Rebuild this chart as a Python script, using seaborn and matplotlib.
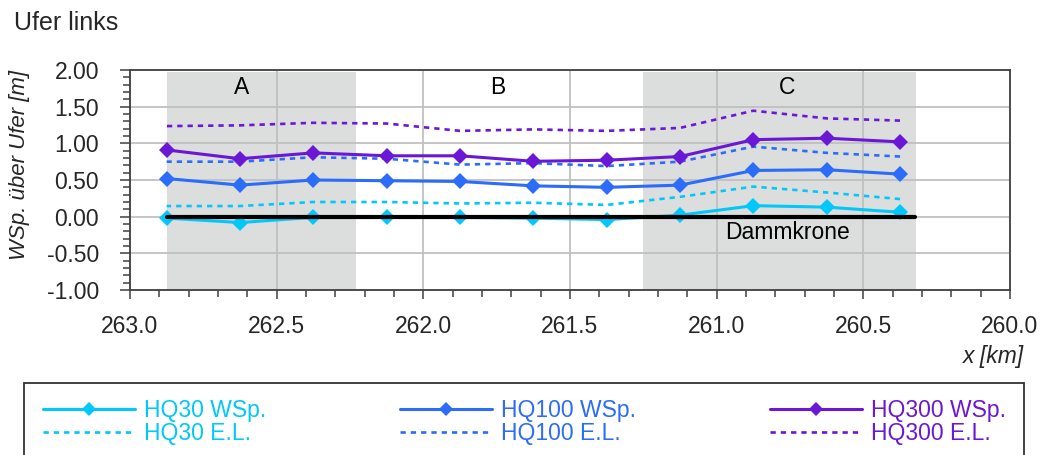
import numpy as np
import pandas as pd
import seaborn as sns
import matplotlib
matplotlib.use("Agg")
import matplotlib.pyplot as plt
from matplotlib.ticker import MultipleLocator, FormatStrFormatter
from matplotlib.patches import Rectangle

# ---- data ----
km = [262.875, 262.625, 262.375, 262.125, 261.875, 261.625,
      261.375, 261.125, 260.875, 260.625, 260.375]
hq30_wsp = [-0.02, -0.08, -0.01, -0.01, -0.01, -0.02, -0.04, 0.02, 0.15, 0.13, 0.06]
hq100_wsp = [0.52, 0.43, 0.50, 0.49, 0.48, 0.42, 0.40, 0.43, 0.63, 0.64, 0.58]
hq300_wsp = [0.91, 0.79, 0.87, 0.83, 0.83, 0.755, 0.77, 0.82, 1.05, 1.07, 1.02]
hq30_el = [0.145, 0.145, 0.20, 0.20, 0.18, 0.19, 0.16, 0.27, 0.41, 0.33, 0.24]
hq100_el = [0.75, 0.75, 0.81, 0.79, 0.71, 0.73, 0.69, 0.75, 0.955, 0.87, 0.82]
hq300_el = [1.235, 1.245, 1.28, 1.27, 1.17, 1.19, 1.17, 1.21, 1.445, 1.34, 1.31]

dam_x = [262.875, 260.325]
dam_y = [0.0, 0.0]

regions = {"A": (262.875, 262.23), "B": None, "C": (261.25, 260.32)}
region_labels = ["A", "B", "C"]
region_label_x = [262.62, 261.745, 260.76]

x_ticks = [263.0, 262.5, 262.0, 261.5, 261.0, 260.5, 260.0]
y_ticks = [-1.0, -0.5, 0.0, 0.5, 1.0, 1.5, 2.0]

c30, c100, c300 = "#00C8FA", "#2B6CF8", "#6A17D6"

# ---- style ----
sns.set_style("white")
plt.rcParams["font.family"] = ["Liberation Sans", "DejaVu Sans"]
plt.rcParams["axes.unicode_minus"] = False

fig = plt.figure(figsize=(10.41, 4.55), dpi=100)
ax = fig.add_axes([130 / 1041, 1 - 290 / 455, 880 / 1041, 220 / 455])

# shaded regions
for key in ["A", "C"]:
    a, b = regions[key]
    ax.axvspan(a, b, ymin=0, ymax=0.99, color="#DCDDDD", zorder=0, lw=0)

df = pd.DataFrame({"km": km,
                   "hq30_wsp": hq30_wsp, "hq100_wsp": hq100_wsp, "hq300_wsp": hq300_wsp,
                   "hq30_el": hq30_el, "hq100_el": hq100_el, "hq300_el": hq300_el})

dot = (0, (2.0, 1.9))
series = [
    ("hq30_wsp", "HQ30 WSp.", c30, "-", "D"),
    ("hq30_el", "HQ30 E.L.", c30, dot, None),
    ("hq100_wsp", "HQ100 WSp.", c100, "-", "D"),
    ("hq100_el", "HQ100 E.L.", c100, dot, None),
    ("hq300_wsp", "HQ300 WSp.", c300, "-", "D"),
    ("hq300_el", "HQ300 E.L.", c300, dot, None),
]
for col, lab, colr, ls, mk in series:
    kw = dict(marker=mk, markersize=8.5, markeredgewidth=0) if mk else {}
    lw = 2.2 if mk else 1.9
    sns.lineplot(data=df, x="km", y=col, ax=ax, color=colr, label=lab,
                 linestyle=ls, linewidth=lw, zorder=4 if mk else 3, **kw)

# Dammkrone line
sns.lineplot(x=dam_x, y=dam_y, ax=ax, color="black", linewidth=3.0, zorder=5)

handles, labels = ax.get_legend_handles_labels()
if ax.get_legend() is not None:
    ax.get_legend().remove()

# axes formatting
ax.set_xlim(263.0, 260.0)
ax.set_ylim(-1.0, 2.0)
ax.set_xticks(x_ticks)
ax.set_yticks(y_ticks)
ax.xaxis.set_major_formatter(FormatStrFormatter("%.1f"))
ax.yaxis.set_major_formatter(FormatStrFormatter("%.2f"))
ax.xaxis.set_minor_locator(MultipleLocator(0.1))
ax.yaxis.set_minor_locator(MultipleLocator(0.1))
ax.grid(True, which="major", color="#C0C0C0", linewidth=1.3, zorder=1)
ax.set_axisbelow(True)
ax.set_xlabel("")
ax.set_ylabel("")
for s in ax.spines.values():
    s.set_color("#404040")
    s.set_linewidth(1.3)
ax.tick_params(axis="both", which="both", direction="out", color="#404040",
               width=1.1, labelsize=16.5, bottom=True, left=True)
ax.tick_params(axis="y", which="major", length=7.2, pad=15)
ax.tick_params(axis="y", which="minor", length=5)
ax.tick_params(axis="x", which="major", length=6.5, pad=11.5)
ax.tick_params(axis="x", which="minor", length=5)

# region labels
for lab, xx in zip(region_labels, region_label_x):
    ax.text(xx, 1.755, lab, ha="center", va="center", fontsize=16.5, color="black", zorder=6)
ax.text(260.76, -0.22, "Dammkrone", ha="center", va="center", fontsize=16.5,
        color="black", zorder=6)

# titles / axis labels
fig.text(14 / 1041, 1 - 23 / 455, "Ufer links", ha="left", va="center", fontsize=18)
fig.text(20 / 1041, 1 - 165 / 455, "WSp. über Ufer [m]", ha="center", va="center",
         rotation=90, fontsize=16, style="italic")
fig.text(1024 / 1041, 1 - 356 / 455, "x [km]", ha="right", va="center",
         fontsize=16.5, style="italic")

# legend box
fig.add_artist(Rectangle((24 / 1041, -0.1), 1000 / 1041, 0.1 + (455 - 383) / 455,
                         transform=fig.transFigure, fill=False,
                         edgecolor="#333333", linewidth=1.3))

col_x = [43, 400, 770]
for i in range(3):
    lg = fig.legend(handles[2 * i:2 * i + 2], labels[2 * i:2 * i + 2],
                    loc="center left", bbox_to_anchor=(col_x[i] / 1041, 1 - 422 / 455),
                    frameon=False, fontsize=16.5, handlelength=4.0, handletextpad=0.42,
                    labelspacing=0.02, borderpad=0, borderaxespad=0,
                    labelcolor="linecolor", markerscale=0.85)

fig.savefig("out.png", dpi=100)
